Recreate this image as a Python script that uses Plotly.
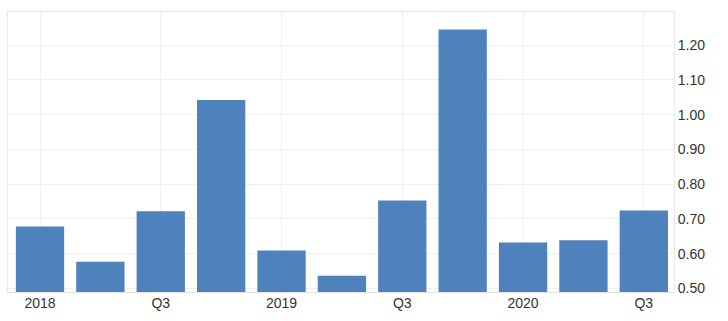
import plotly.graph_objects as go

quarters = ["2018 Q1", "2018 Q2", "2018 Q3", "2018 Q4",
            "2019 Q1", "2019 Q2", "2019 Q3", "2019 Q4",
            "2020 Q1", "2020 Q2", "2020 Q3"]
values = [0.678, 0.577, 0.722, 1.042, 0.609, 0.537, 0.753, 1.245, 0.632, 0.639, 0.724]
x_tick_idx = [0, 2, 4, 6, 8, 10]
x_tick_text = ["2018", "Q3", "2019", "Q3", "2020", "Q3"]
y_ticks = [0.5, 0.6, 0.7, 0.8, 0.9, 1.0, 1.1, 1.2]

xs = list(range(len(quarters)))

fig = go.Figure(go.Bar(
    x=xs, y=values, marker=dict(color="#4f81bd", line=dict(width=0)),
    width=0.8, hovertext=quarters,
))

fig.update_layout(
    width=728, height=321,
    margin=dict(l=8, r=54, t=12, b=29),
    paper_bgcolor="white", plot_bgcolor="white",
    showlegend=False,
    font=dict(family="Liberation Sans, Arial, sans-serif", size=14, color="#333333"),
)
fig.update_xaxes(
    range=[-0.53, 10.5],
    tickmode="array", tickvals=x_tick_idx, ticktext=x_tick_text,
    showgrid=True, gridcolor="#efefef", gridwidth=1,
    showline=True, linecolor="#e3e3e3", linewidth=1, mirror=True,
    ticks="", zeroline=False, ticklabelstandoff=-2,
)
fig.update_yaxes(
    side="right", range=[0.49, 1.295],
    tickmode="array", tickvals=y_ticks, tickformat=".2f",
    showgrid=True, gridcolor="#efefef", gridwidth=1,
    showline=True, linecolor="#e8e8e8", linewidth=1, mirror=True,
    ticks="", zeroline=False,
)

fig.write_html("out.html")
